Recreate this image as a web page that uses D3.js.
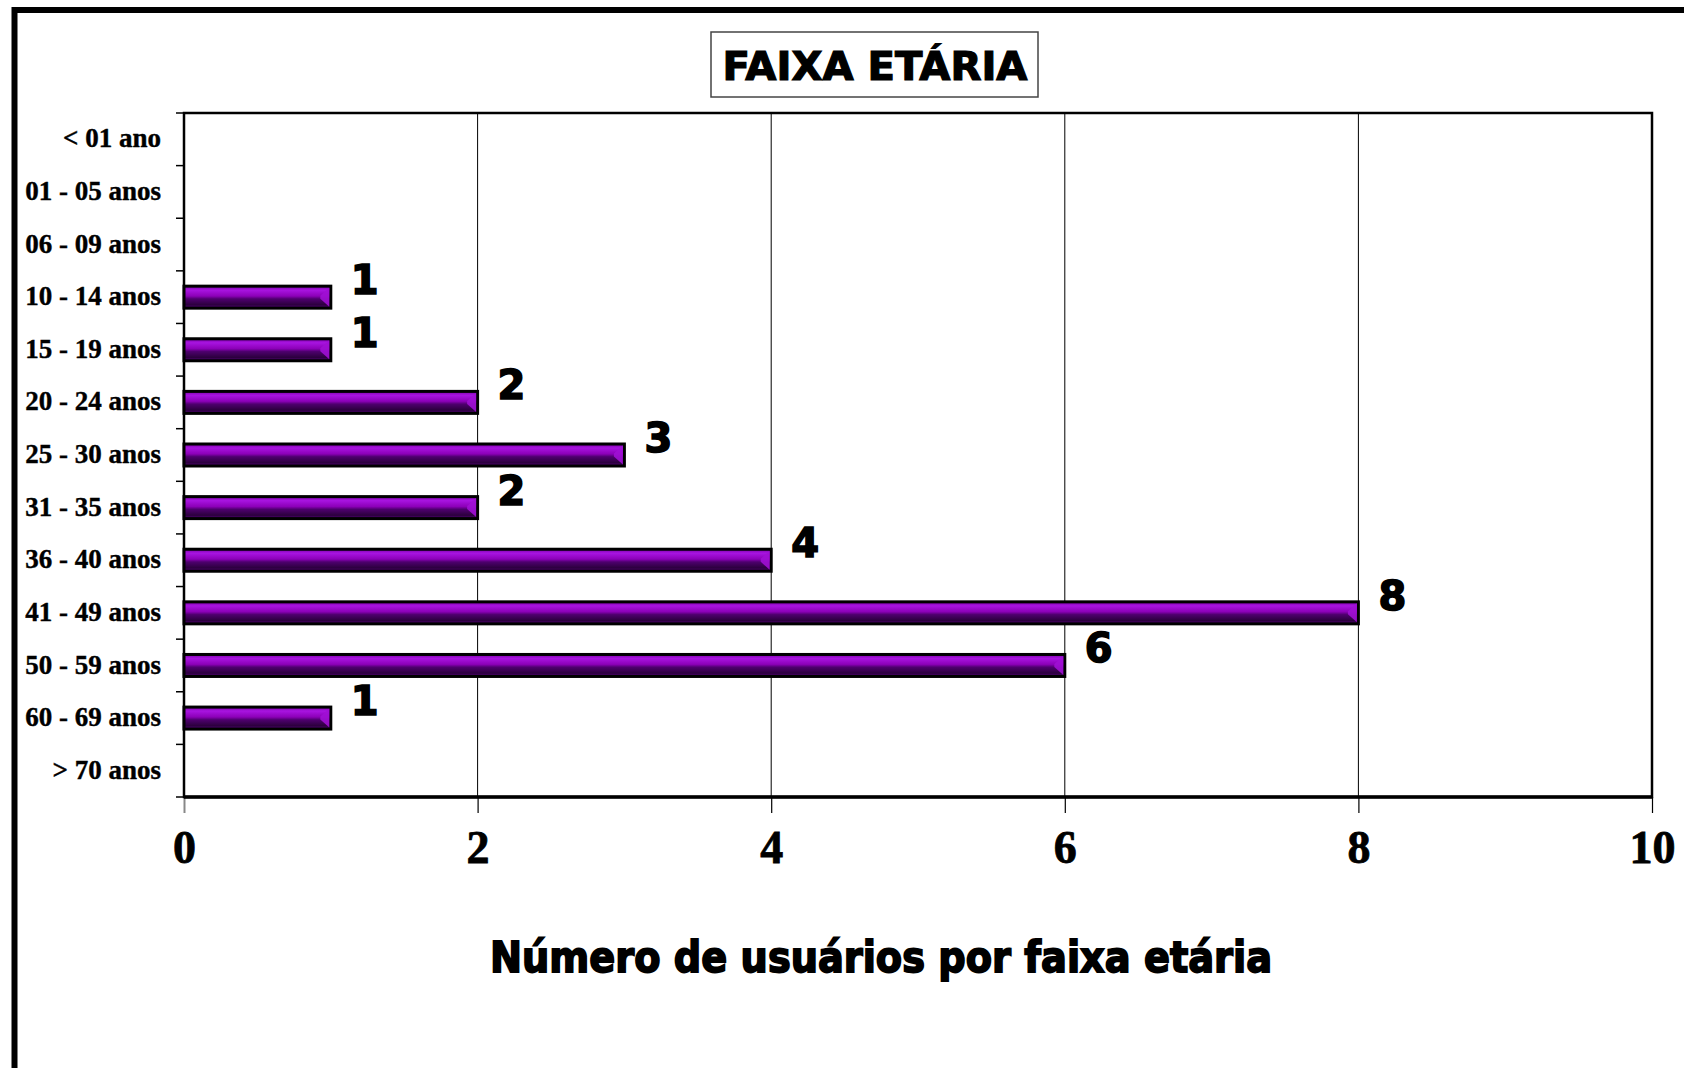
<!DOCTYPE html>
<html>
<head>
<meta charset="utf-8">
<script src="https://cdn.jsdelivr.net/npm/d3@7"></script>
<style>
  html, body { margin: 0; padding: 0; background: #fff; overflow: hidden; }
  svg { display: block; }
</style>
</head>
<body>
<svg id="chart" width="1684" height="1068"></svg>
<script>
const categories = ["< 01 ano", "01 - 05 anos", "06 - 09 anos", "10 - 14 anos", "15 - 19 anos",
  "20 - 24 anos", "25 - 30 anos", "31 - 35 anos", "36 - 40 anos", "41 - 49 anos",
  "50 - 59 anos", "60 - 69 anos", "> 70 anos"];
const values = [0, 0, 0, 1, 1, 2, 3, 2, 4, 8, 6, 1, 0];
const xTicks = [0, 2, 4, 6, 8, 10];
const chartTitle = "FAIXA ETÁRIA";
const xTitle = "Número de usuários por faixa etária";

const svg = d3.select("#chart");
const W = 1684, H = 1068;
const plot = { left: 184, top: 113, right: 1652, bottom: 797 };

// outer frame (right/bottom edges fall outside the picture)
svg.append("rect").attr("x", 14.5).attr("y", 10).attr("width", W + 50).attr("height", H + 50)
  .attr("fill", "#fff").attr("stroke", "#000").attr("stroke-width", 6);

const x = d3.scaleLinear().domain([0, 10]).range([plot.left, plot.right]);
const y = d3.scaleBand().domain(categories).range([plot.top, plot.bottom]).paddingInner(0).paddingOuter(0);

const defs = svg.append("defs");
const grad = defs.append("linearGradient").attr("id", "barGrad").attr("x1", 0).attr("y1", 0).attr("x2", 0).attr("y2", 1);
[["0%", "#7a00a8"], ["18%", "#a814e0"], ["45%", "#8c00b8"], ["58%", "#4e006e"], ["85%", "#2c003e"], ["100%", "#5c0084"]]
  .forEach(([o, c]) => grad.append("stop").attr("offset", o).attr("stop-color", c));

// gridlines
svg.append("g").selectAll("line").data(xTicks.filter(d => d > 0 && d < 10)).join("line")
  .attr("x1", d => x(d)).attr("x2", d => x(d)).attr("y1", plot.top).attr("y2", plot.bottom)
  .attr("stroke", "#000").attr("stroke-width", 1);

// x axis
const xAxis = d3.axisBottom(x).tickValues(xTicks).tickSize(16).tickFormat(d3.format("d")).tickPadding(17);
const gx = svg.append("g").attr("transform", `translate(0,${plot.bottom})`).call(xAxis);
gx.select(".domain").remove();
gx.selectAll(".tick line").attr("stroke", "#000").attr("stroke-width", 1.2);
gx.selectAll(".tick:first-of-type line").attr("stroke", "#888").attr("stroke-width", 2);
gx.selectAll(".tick text").attr("font-family", "'Liberation Serif', 'Times New Roman', serif")
  .attr("font-weight", "bold").attr("font-size", 46).attr("fill", "#000")
  .attr("stroke", "#000").attr("stroke-width", 0.8).attr("dy", "0.71em");

// y axis
const yAxis = d3.axisLeft(y).tickSize(0).tickPadding(23);
const gy = svg.append("g").attr("transform", `translate(${plot.left},0)`).call(yAxis);
gy.select(".domain").remove();
gy.selectAll(".tick text").attr("font-family", "'Liberation Serif', 'Times New Roman', serif")
  .attr("font-weight", "bold").attr("font-size", 27).attr("fill", "#000")
  .attr("stroke", "#000").attr("stroke-width", 0.4).attr("dy", "0.3em");
// y tick marks at band boundaries
const bounds = categories.map(c => y(c)).concat([y(categories[categories.length - 1]) + y.bandwidth()]);
svg.append("g").selectAll("line").data(bounds).join("line")
  .attr("x1", plot.left - 8).attr("x2", plot.left).attr("y1", d => d).attr("y2", d => d)
  .attr("stroke", "#000").attr("stroke-width", 1.5);

// plot frame
svg.append("rect").attr("x", plot.left).attr("y", plot.top)
  .attr("width", plot.right - plot.left).attr("height", plot.bottom - plot.top)
  .attr("fill", "none").attr("stroke", "#000").attr("stroke-width", 2.5);
svg.append("line").attr("x1", plot.left).attr("x2", plot.right).attr("y1", plot.bottom).attr("y2", plot.bottom)
  .attr("stroke", "#000").attr("stroke-width", 3.5);

// bars
const barH = 22;
const data = categories.map((c, i) => ({ c, v: values[i] }));
const barsG = svg.append("g");
const nz = data.filter(d => d.v > 0);
barsG.selectAll("rect").data(nz).join("rect")
  .attr("x", x(0))
  .attr("y", d => y(d.c) + y.bandwidth() / 2 - barH / 2)
  .attr("width", d => x(d.v) - x(0))
  .attr("height", barH)
  .attr("fill", "url(#barGrad)")
  .attr("stroke", "#000").attr("stroke-width", 3);
// bevel at bar ends
barsG.selectAll("path").data(nz).join("path")
  .attr("d", d => {
    const x1 = x(d.v) - 1.5, yt = y(d.c) + y.bandwidth() / 2 - barH / 2 + 1.5, yb = yt + barH - 3;
    return `M${x1},${yt} L${x1 - 9},${yt + 8} L${x1 - 9},${yb - 8} L${x1},${yb} Z`;
  })
  .attr("fill", "#a010d4").attr("opacity", 0.9);

// value labels
svg.append("g").selectAll("text").data(nz).join("text")
  .attr("x", d => x(d.v) + 20)
  .attr("y", d => y(d.c) + y.bandwidth() / 2 - 3)
  .attr("font-family", "'DejaVu Sans', sans-serif").attr("font-weight", "bold")
  .attr("font-size", 40).attr("fill", "#000").attr("stroke", "#000").attr("stroke-width", 1.6)
  .text(d => d.v);

// title box
const titleX = 875;
svg.append("rect").attr("x", 711).attr("y", 32).attr("width", 327).attr("height", 65)
  .attr("fill", "#fff").attr("stroke", "#444").attr("stroke-width", 1.5);
svg.append("text").attr("x", titleX).attr("y", 80).attr("text-anchor", "middle")
  .attr("font-family", "'DejaVu Sans', sans-serif").attr("font-weight", "bold")
  .attr("font-size", 39).attr("fill", "#000").attr("stroke", "#000").attr("stroke-width", 1.2)
  .attr("textLength", 305).attr("lengthAdjust", "spacingAndGlyphs")
  .text(chartTitle);

// x axis title
svg.append("text").attr("x", 881).attr("y", 972).attr("text-anchor", "middle")
  .attr("font-family", "'DejaVu Sans', sans-serif").attr("font-weight", "bold")
  .attr("font-size", 42).attr("fill", "#000").attr("stroke", "#000").attr("stroke-width", 1.8)
  .attr("textLength", 782).attr("lengthAdjust", "spacingAndGlyphs")
  .text(xTitle);
</script>
</body>
</html>
